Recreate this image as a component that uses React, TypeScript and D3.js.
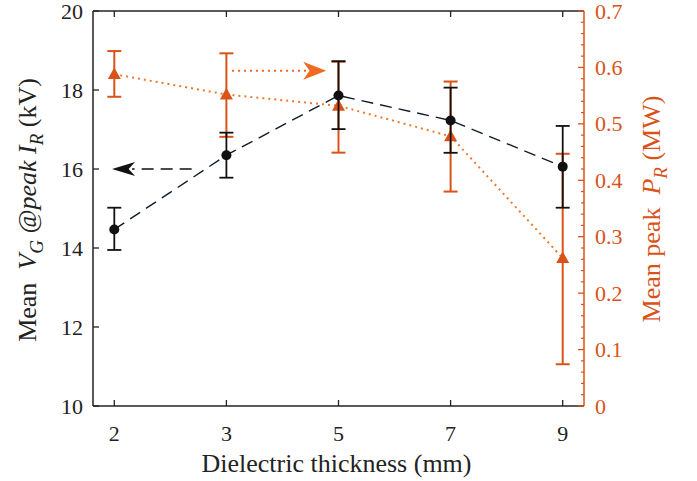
import React from "react";
import * as d3 from "d3";

const categories = ["2", "3", "5", "7", "9"];
const vgMean = [14.47, 16.35, 17.86, 17.23, 16.06];
const vgLow = [13.95, 15.78, 17.01, 16.41, 15.02];
const vgHigh = [15.02, 16.92, 18.73, 18.06, 17.09];
const prMean = [0.588, 0.552, 0.532, 0.478, 0.262];
const prLow = [0.548, 0.477, 0.449, 0.38, 0.074];
const prHigh = [0.629, 0.625, 0.61, 0.575, 0.447];
const leftTicks = [10, 12, 14, 16, 18, 20];
const rightTicks = [0, 0.1, 0.2, 0.3, 0.4, 0.5, 0.6, 0.7];
// annotation arrows (in category-index units and axis values)
const blackArrow = { from: 0.69, to: -0.02, value: 16 };
const orangeArrow = { from: 1.05, to: 1.89, value: 0.594 };

const W = 697, H = 481;
const L = 93, R = 584, T = 11, B = 406;
const ORANGE = "#D95319";
const FONT = "'Liberation Serif', 'Times New Roman', serif";

export default function App() {
  const x = d3.scalePoint<string>().domain(categories).range([L, R]).padding(0.19);
  const xi = d3.scaleLinear().domain([0, categories.length - 1]).range([x(categories[0])!, x(categories[categories.length - 1])!]);
  const yL = d3.scaleLinear().domain([10, 20]).range([B, T]);
  const yR = d3.scaleLinear().domain([0, 0.7]).range([B, T]);
  const minorR = d3.range(0, 71, 2).map((v) => v / 100).filter((v) => Math.round(v * 100) % 10 !== 0);

  const lineL = d3.line<number>().x((_, i) => x(categories[i])!).y((d) => yL(d));
  const lineR = d3.line<number>().x((_, i) => x(categories[i])!).y((d) => yR(d));

  const capW = 7;
  const tri = (cx: number, cy: number) => {
    const s = 6.5;
    return `M${cx},${cy - s * 1.05} L${cx + s},${cy + s * 0.75} L${cx - s},${cy + s * 0.75} Z`;
  };

  const arrowHead = (tipX: number, y: number, dir: number, len: number, hh: number) => {
    const back = tipX - dir * len;
    const notch = tipX - dir * len * 0.72;
    return `M${tipX},${y} L${back},${y - hh} L${notch},${y} L${back},${y + hh} Z`;
  };

  const bax1 = xi(blackArrow.from), bax2 = xi(blackArrow.to), bay = yL(blackArrow.value);
  const oax1 = xi(orangeArrow.from), oax2 = xi(orangeArrow.to), oay = yR(orangeArrow.value);

  return (
    <svg width={W} height={H} style={{ position: "absolute", left: 0, top: 0, background: "#fff" }} fontFamily={FONT}>
      {/* box */}
      <line x1={L} x2={R} y1={T} y2={T} stroke="#222" strokeWidth={1.5} />
      <line x1={L} x2={R} y1={B} y2={B} stroke="#222" strokeWidth={1.5} />
      <line x1={L} x2={L} y1={T} y2={B} stroke="#222" strokeWidth={1.5} />
      <line x1={R} x2={R} y1={T} y2={B} stroke={ORANGE} strokeWidth={1.5} />

      {/* x ticks */}
      {categories.map((c) => (
        <g key={c}>
          <line x1={x(c)} x2={x(c)} y1={B} y2={B - 6} stroke="#222" strokeWidth={1.3} />
          <line x1={x(c)} x2={x(c)} y1={T} y2={T + 6} stroke="#222" strokeWidth={1.3} />
          <text x={x(c)} y={441} textAnchor="middle" fontSize={22} fill="#222">{c}</text>
        </g>
      ))}
      {/* left ticks */}
      {leftTicks.map((t) => (
        <g key={t}>
          <line x1={L} x2={L + 6} y1={yL(t)} y2={yL(t)} stroke="#222" strokeWidth={1.3} />
          <text x={83} y={yL(t) + 7.5} textAnchor="end" fontSize={22} fill="#222">{t}</text>
        </g>
      ))}
      {/* right ticks */}
      {rightTicks.map((t) => (
        <g key={t}>
          <line x1={R} x2={R - 6} y1={yR(t)} y2={yR(t)} stroke={ORANGE} strokeWidth={1.3} />
          <text x={595} y={yR(t) + 7.5} textAnchor="start" fontSize={22} fill={ORANGE}>{t === 0 ? "0" : d3.format(".1f")(t)}</text>
        </g>
      ))}
      {minorR.map((t) => (
        <line key={t} x1={R} x2={R - 3} y1={yR(t)} y2={yR(t)} stroke={ORANGE} strokeWidth={1.2} />
      ))}

      {/* orange series */}
      <path d={lineR(prMean)!} fill="none" stroke="#EC7A2E" strokeWidth={2} strokeDasharray="2,4" />
      {categories.map((c, i) => (
        <g key={c} stroke={ORANGE} strokeWidth={2}>
          <line x1={x(c)} x2={x(c)} y1={yR(prLow[i])} y2={yR(prHigh[i])} />
          <line x1={x(c)! - capW} x2={x(c)! + capW} y1={yR(prLow[i])} y2={yR(prLow[i])} />
          <line x1={x(c)! - capW} x2={x(c)! + capW} y1={yR(prHigh[i])} y2={yR(prHigh[i])} />
          <path d={tri(x(c)!, yR(prMean[i]))} fill={ORANGE} stroke="none" />
        </g>
      ))}

      {/* black series */}
      <path d={lineL(vgMean)!} fill="none" stroke="#0f1c2b" strokeWidth={1.4} strokeDasharray="12,7" />
      {categories.map((c, i) => (
        <g key={c} stroke="#111" strokeWidth={1.8}>
          <line x1={x(c)} x2={x(c)} y1={yL(vgLow[i])} y2={yL(vgHigh[i])} />
          <line x1={x(c)! - capW} x2={x(c)! + capW} y1={yL(vgLow[i])} y2={yL(vgLow[i])} />
          <line x1={x(c)! - capW} x2={x(c)! + capW} y1={yL(vgHigh[i])} y2={yL(vgHigh[i])} />
          <circle cx={x(c)} cy={yL(vgMean[i])} r={5} fill="#111" stroke="none" />
        </g>
      ))}

      {/* arrows */}
      <line x1={bax1} x2={bax2 + 20} y1={bay} y2={bay} stroke="#111" strokeWidth={1.4} strokeDasharray="12,7" />
      <path d={arrowHead(bax2, bay, -1, 23, 7)} fill="#111" />
      <line x1={oax1} x2={oax2 - 20} y1={oay} y2={oay} stroke="#F26A22" strokeWidth={2} strokeDasharray="2,4" />
      <path d={arrowHead(oax2, oay, 1, 23, 9)} fill="#F26A22" />

      {/* axis labels */}
      <text x={(L + R) / 2 - 2} y={472} textAnchor="middle" fontSize={26} fill="#222">Dielectric thickness (mm)</text>
      <text transform="translate(36,210) rotate(-90)" textAnchor="middle" fontSize={26} fill="#222" style={{ whiteSpace: "pre" }}>
        <tspan>{"Mean  "}</tspan>
        <tspan fontStyle="italic">V</tspan>
        <tspan fontStyle="italic" fontSize={19} dy={7}>G</tspan>
        <tspan fontStyle="italic" dy={-7}>{" @peak I"}</tspan>
        <tspan fontStyle="italic" fontSize={19} dy={7}>R</tspan>
        <tspan dy={-7}>{" (kV)"}</tspan>
      </text>
      <text transform="translate(660,209) rotate(-90)" textAnchor="middle" fontSize={26} fill={ORANGE} style={{ whiteSpace: "pre" }}>
        <tspan>{"Mean peak  "}</tspan>
        <tspan fontStyle="italic">P</tspan>
        <tspan fontStyle="italic" fontSize={19} dy={7}>R</tspan>
        <tspan dy={-7}>{" (MW)"}</tspan>
      </text>
    </svg>
  );
}
